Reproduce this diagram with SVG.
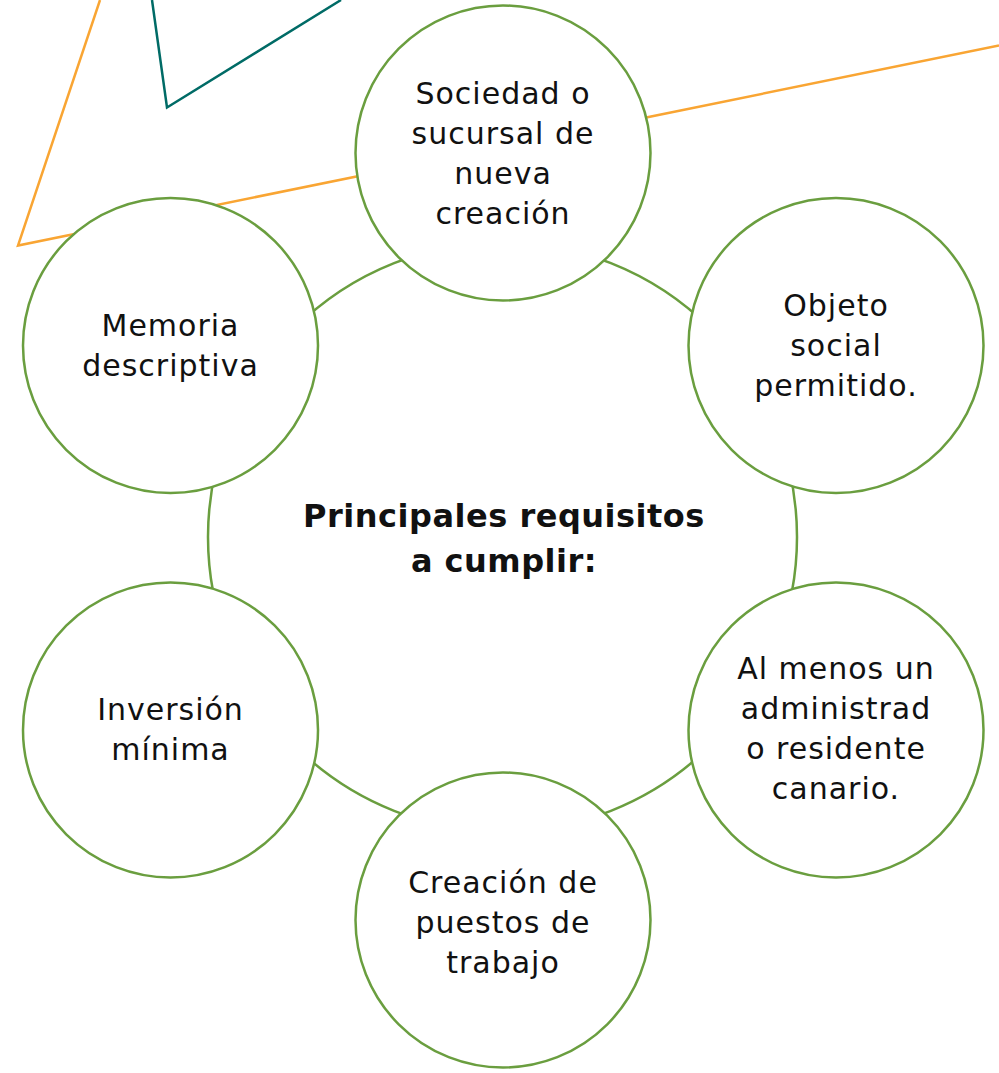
<svg xmlns="http://www.w3.org/2000/svg" width="999" height="1073" viewBox="0 0 999 1073">
<style>
.node{fill:#ffffff;stroke:#6a9e3f;stroke-width:2.5}
.ring{fill:none;stroke:#6a9e3f;stroke-width:2.5}
.lbl{font-family:"DejaVu Sans","Noto Sans",sans-serif;font-size:30px;letter-spacing:1px;fill:#111111;text-anchor:middle}
.title{font-family:"DejaVu Sans","Noto Sans",sans-serif;font-size:32px;letter-spacing:0.5px;font-weight:bold;fill:#111111;text-anchor:middle}
</style>
<rect width="999" height="1073" fill="#ffffff"/>
<g id="decor">
<polyline points="100,0 18,245.5 999,45.5" fill="none" stroke="#f9a533" stroke-width="2.5"/>
<polyline points="152,0 167,107.5 341,0" fill="none" stroke="#006b66" stroke-width="2.5"/>
</g>
<g id="connectors">
<circle class="ring" cx="502.5" cy="537" r="294.5"/>
</g>
<g id="center">
<text class="title" x="504" y="527">Principales requisitos</text>
<text class="title" x="504" y="572">a cumplir:</text>
</g>
<g id="n1">
<circle class="node" cx="503" cy="153" r="147.5"/>
<text class="lbl" x="503" y="104">Sociedad o</text>
<text class="lbl" x="503" y="144">sucursal de</text>
<text class="lbl" x="503" y="184">nueva</text>
<text class="lbl" x="503" y="224">creación</text>
</g>
<g id="n2">
<circle class="node" cx="836" cy="345.5" r="147.5"/>
<text class="lbl" x="836" y="316">Objeto</text>
<text class="lbl" x="836" y="356">social</text>
<text class="lbl" x="836" y="396">permitido.</text>
</g>
<g id="n3">
<circle class="node" cx="836" cy="730" r="147.5"/>
<text class="lbl" x="836" y="679">Al menos un</text>
<text class="lbl" x="836" y="719">administrad</text>
<text class="lbl" x="836" y="759">o residente</text>
<text class="lbl" x="836" y="799">canario.</text>
</g>
<g id="n4">
<circle class="node" cx="503" cy="920" r="147.5"/>
<text class="lbl" x="503" y="893">Creación de</text>
<text class="lbl" x="503" y="933">puestos de</text>
<text class="lbl" x="503" y="973">trabajo</text>
</g>
<g id="n5">
<circle class="node" cx="170.5" cy="730" r="147.5"/>
<text class="lbl" x="170.5" y="720">Inversión</text>
<text class="lbl" x="170.5" y="760">mínima</text>
</g>
<g id="n6">
<circle class="node" cx="170.5" cy="345.5" r="147.5"/>
<text class="lbl" x="170.5" y="336">Memoria</text>
<text class="lbl" x="170.5" y="376">descriptiva</text>
</g>
</svg>
